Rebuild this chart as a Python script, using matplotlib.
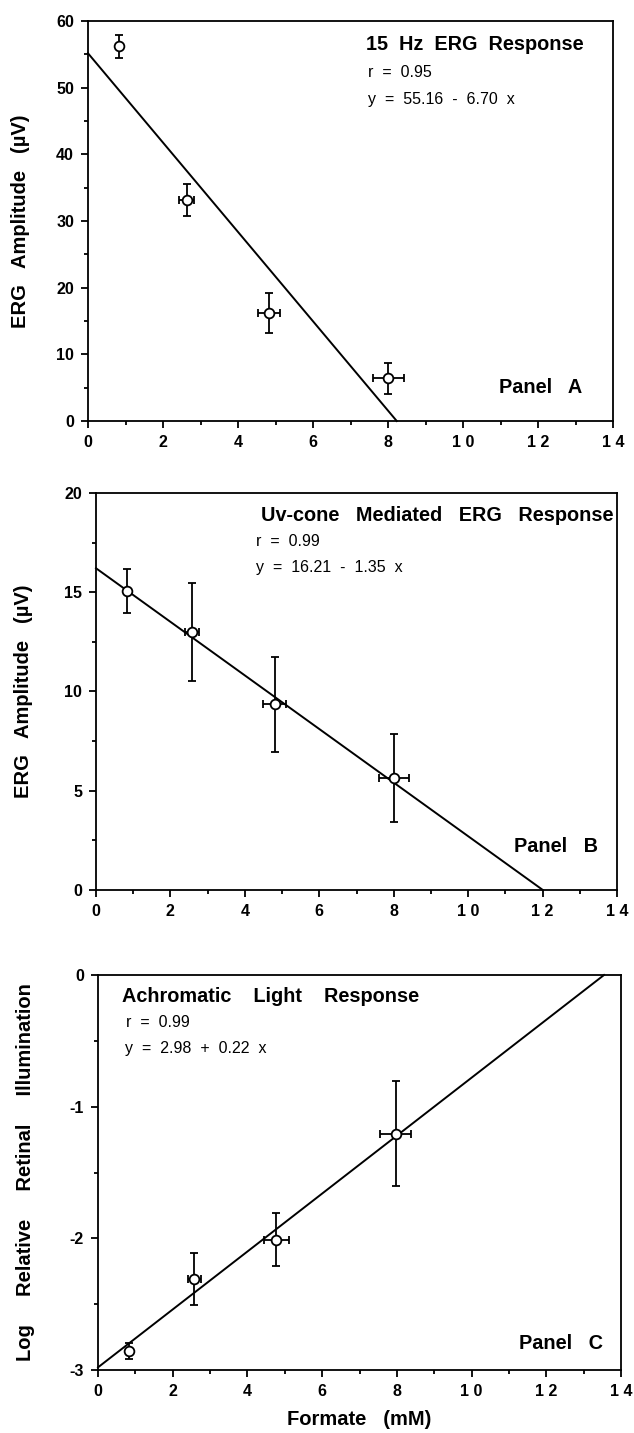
import matplotlib
matplotlib.use("Agg")
import matplotlib.pyplot as plt
from matplotlib.ticker import FixedLocator, FixedFormatter, MultipleLocator
import numpy as np

plt.rcParams['font.family'] = ['Liberation Sans', 'DejaVu Sans']
plt.rcParams['axes.unicode_minus'] = False

# ---- data ----
xA = [0.83, 2.63, 4.82, 8.01]
yA = [56.2, 33.2, 16.2, 6.4]
yerrA = [1.7, 2.4, 3.0, 2.3]
xerrA = [0.0, 0.2, 0.3, 0.41]
fitA = (55.16, -6.70)

xB = [0.82, 2.59, 4.80, 8.01]
yB = [15.07, 12.99, 9.36, 5.65]
yerrB = [1.1, 2.48, 2.4, 2.2]
xerrB = [0.0, 0.19, 0.3, 0.41]
fitB = (16.21, -1.35)

xC = [0.82, 2.58, 4.77, 7.97]
yC = [-2.855, -2.31, -2.01, -1.206]
yerrC = [0.06, 0.2, 0.2, 0.4]
xerrC = [0.0, 0.18, 0.33, 0.42]
fitC = (-2.98, 0.22)

xticks = [0, 2, 4, 6, 8, 10, 12, 14]
xticklabels = ["0", "2", "4", "6", "8", "1 0", "1 2", "1 4"]

titles = ["15  Hz  ERG  Response", "Uv-cone   Mediated   ERG   Response",
          "Achromatic    Light    Response"]
rtexts = ["r  =  0.95", "r  =  0.99", "r  =  0.99"]
eqtexts = ["y  =  55.16  -  6.70  x", "y  =  16.21  -  1.35  x",
           "y  =  2.98  +  0.22  x"]
panels = ["Panel   A", "Panel   B", "Panel   C"]
ylabels = ["ERG   Amplitude   (\u00b5V)", "ERG   Amplitude   (\u00b5V)",
           "Log     Relative     Retinal     Illumination"]

W, H = 634, 1433
fig = plt.figure(figsize=(W / 100, H / 100), dpi=100)

def axbox(l, t, r, b):
    return [l / W, 1 - b / H, (r - l) / W, (b - t) / H]

axA = fig.add_axes(axbox(88, 21, 613, 421))
axB = fig.add_axes(axbox(96, 493, 617, 890))
axC = fig.add_axes(axbox(98, 975, 621, 1370))

TF = 14.3    # title / panel font size
SF = 11.5    # r / equation font size
LF = 14.5    # axis label font size
KF = 11.5    # tick label font size

def style(ax, ylim, yticks, yminor):
    ax.set_xlim(0, 14)
    ax.set_ylim(*ylim)
    ax.xaxis.set_major_locator(FixedLocator(xticks))
    ax.xaxis.set_major_formatter(FixedFormatter(xticklabels))
    ax.xaxis.set_minor_locator(MultipleLocator(1))
    ax.yaxis.set_major_locator(FixedLocator(yticks))
    ax.yaxis.set_minor_locator(MultipleLocator(yminor))
    ax.tick_params(which='both', direction='out', width=1.3, colors='black')
    ax.tick_params(which='major', length=5, labelsize=KF, pad=5)
    ax.tick_params(which='minor', length=3)
    for lab in ax.get_xticklabels() + ax.get_yticklabels():
        lab.set_fontweight('bold')
    for s in ax.spines.values():
        s.set_linewidth(1.3)
        s.set_color('black')

def draw(ax, x, y, xe, ye, fit, xend):
    xs = np.array([0, xend])
    ax.plot(xs, fit[0] + fit[1] * xs, color='black', lw=1.4, clip_on=False)
    ax.errorbar(x, y, yerr=ye, xerr=xe, fmt='o', ms=7, mfc='white',
                mec='black', mew=1.3, ecolor='black', elinewidth=1.3,
                capsize=3, capthick=1.3, zorder=5)

# Panel A
style(axA, (0, 60), [0, 10, 20, 30, 40, 50, 60], 5)
draw(axA, xA, yA, xerrA, yerrA, fitA, -fitA[0] / fitA[1])
axA.text(13.22, 56.5, titles[0], ha='right', va='center', fontsize=TF, fontweight='bold')
axA.text(7.48, 52.3, rtexts[0], ha='left', va='center', fontsize=SF)
axA.text(7.48, 48.2, eqtexts[0], ha='left', va='center', fontsize=SF)
axA.text(13.19, 5.0, panels[0], ha='right', va='center', fontsize=TF, fontweight='bold')
axA.set_ylabel(ylabels[0], fontsize=LF, fontweight='bold')
axA.yaxis.set_label_coords(-0.11, 0.5)

# Panel B
style(axB, (0, 20), [0, 5, 10, 15, 20], 2.5)
draw(axB, xB, yB, xerrB, yerrB, fitB, -fitB[0] / fitB[1])
axB.text(13.91, 18.85, titles[1], ha='right', va='center', fontsize=TF, fontweight='bold')
axB.text(4.29, 17.56, rtexts[1], ha='left', va='center', fontsize=SF)
axB.text(4.29, 16.26, eqtexts[1], ha='left', va='center', fontsize=SF)
axB.text(13.49, 2.2, panels[1], ha='right', va='center', fontsize=TF, fontweight='bold')
axB.set_ylabel(ylabels[1], fontsize=LF, fontweight='bold')
axB.yaxis.set_label_coords(-0.12, 0.5)

# Panel C
style(axC, (-3, 0), [-3, -2, -1, 0], 0.5)
draw(axC, xC, yC, xerrC, yerrC, fitC, -fitC[0] / fitC[1])
axC.text(0.65, -0.16, titles[2], ha='left', va='center', fontsize=TF, fontweight='bold')
axC.text(0.76, -0.357, rtexts[2], ha='left', va='center', fontsize=SF)
axC.text(0.73, -0.56, eqtexts[2], ha='left', va='center', fontsize=SF)
axC.text(13.51, -2.8, panels[2], ha='right', va='center', fontsize=TF, fontweight='bold')
axC.set_ylabel(ylabels[2], fontsize=LF, fontweight='bold')
axC.yaxis.set_label_coords(-0.12, 0.5)
axC.set_xlabel("Formate   (mM)", fontsize=LF, fontweight='bold', labelpad=8)

fig.savefig("out.png", dpi=100)
